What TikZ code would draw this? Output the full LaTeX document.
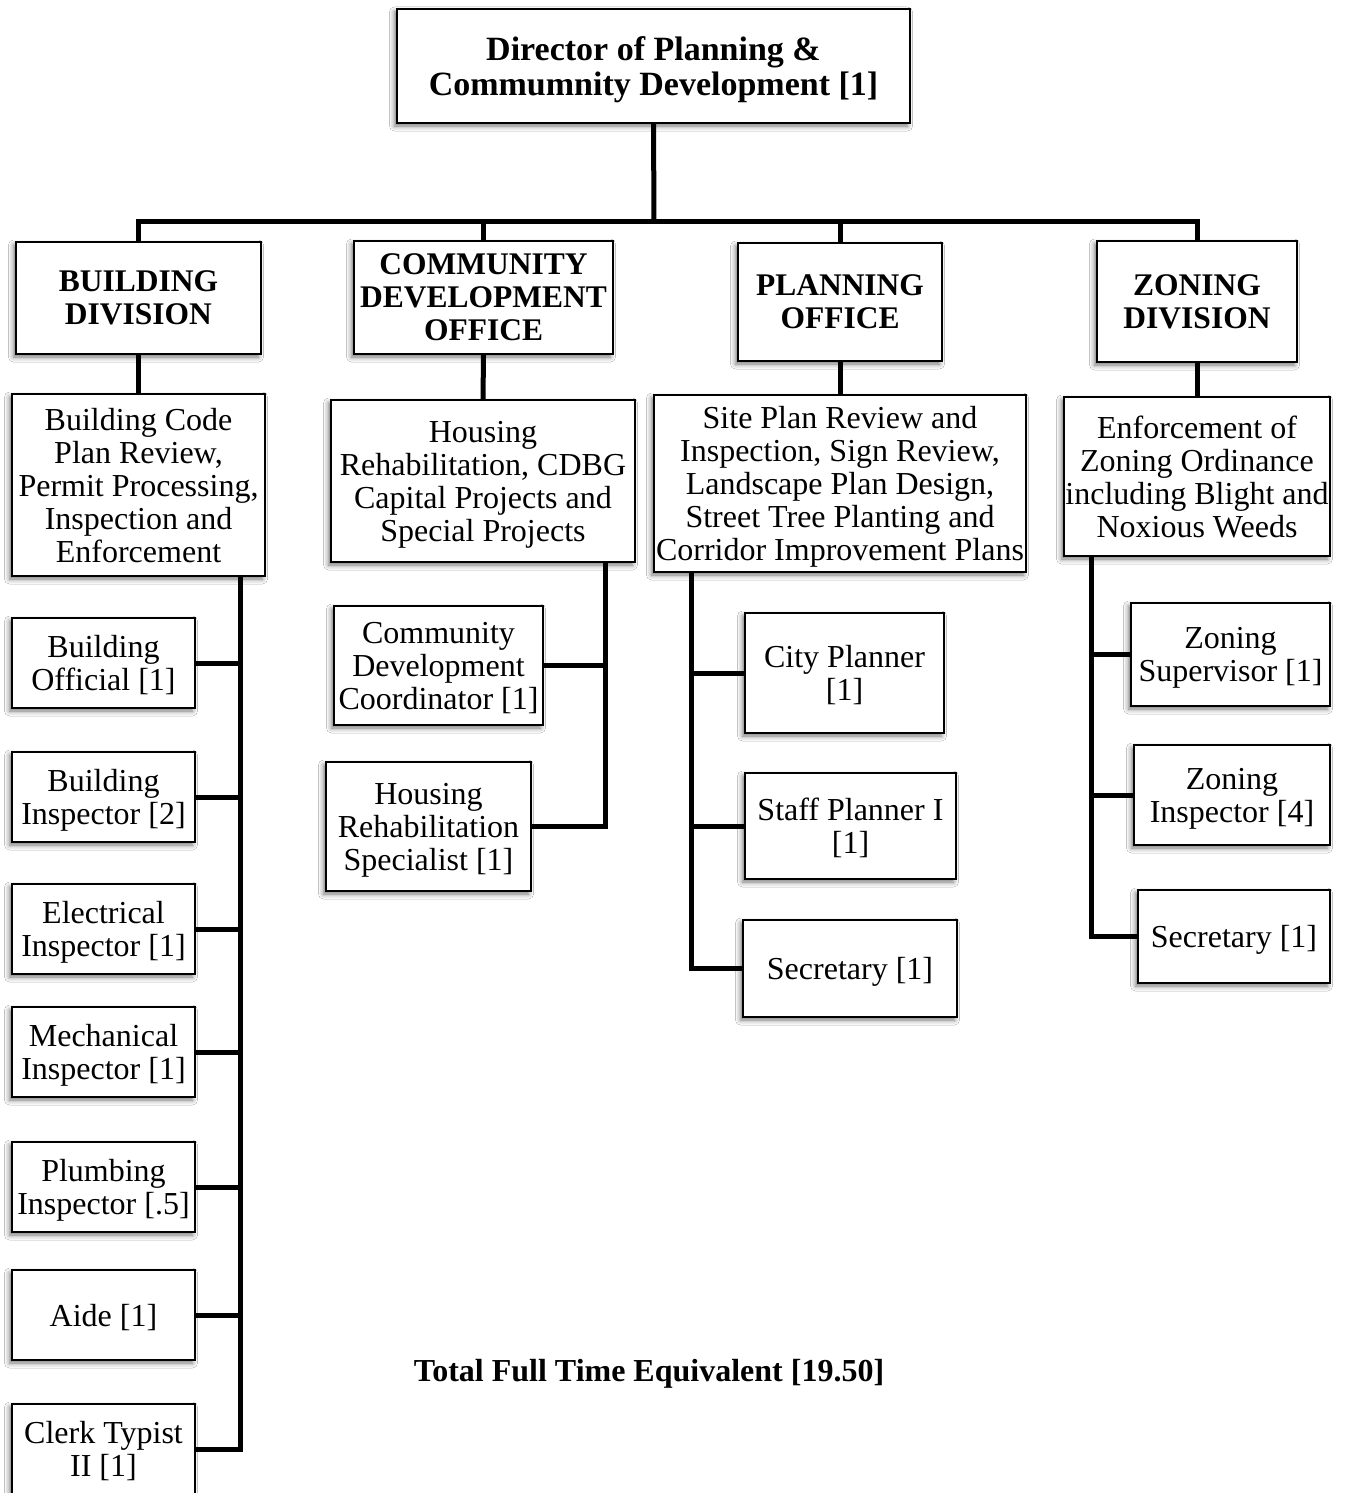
\documentclass[tikz,border=0pt]{standalone}
\usepackage{fontspec}
\setmainfont{Liberation Serif}
\usetikzlibrary{shadows.blur}
\begin{document}
\begin{tikzpicture}[x=1pt,y=-1pt,
  box/.style={draw=black, line width=2pt, fill=white, inner sep=0pt, align=center,
    font=\fontsize{32}{33}\selectfont, text depth=0pt,
    blur shadow={shadow xshift=-2.5pt, shadow yshift=-3pt, shadow blur radius=5pt, shadow opacity=55}},
  head/.style={box, font=\bfseries\fontsize{31.5}{33}\selectfont},
  top/.style={box, font=\bfseries\fontsize{34}{35}\selectfont},
  sz/.style 2 args={minimum width=#1pt, minimum height=#2pt},
  link/.style={line width=5pt, line join=miter}]
\useasboundingbox (0,0) rectangle (1345,1493);
\fill[white] (0,0) rectangle (1345,1493);

% director
\node[top, sz={513}{114}] (dir) at (653.5,66) {Director of Planning \&\\Commumnity Development [1]};

% divisions
\node[head, sz={245}{112}] (bld) at (138.5,298) {BUILDING\\DIVISION};
\node[head, sz={259}{113}] (cdo) at (483.5,297.5) {COMMUNITY\\DEVELOPMENT\\OFFICE};
\node[head, sz={204}{118}] (pln) at (840,302) {PLANNING\\OFFICE};
\node[head, sz={200}{121}] (zon) at (1197,301.5) {ZONING\\DIVISION};

% responsibilities
\node[box, sz={253}{182}] (bcode) at (138.5,485) {Building Code\\Plan Review,\\Permit Processing,\\Inspection and\\Enforcement};
\node[box, sz={304}{162}] (hrehab) at (483,481) {Housing\\Rehabilitation, CDBG\\Capital Projects and\\Special Projects};
\node[box, sz={372}{177}] (site) at (840,483.5) {Site Plan Review and\\Inspection, Sign Review,\\Landscape Plan Design,\\Street Tree Planting and\\Corridor Improvement Plans};
\node[box, sz={266}{159}] (enf) at (1197,476.5) {Enforcement of\\Zoning Ordinance\\including Blight and\\Noxious Weeds};

% building staff
\node[box, sz={183}{90}] (bofc) at (103.5,663) {Building\\Official [1]};
\node[box, sz={183}{90}] (binsp) at (103.5,797) {Building\\Inspector [2]};
\node[box, sz={183}{90}] (elec) at (103.5,929) {Electrical\\Inspector [1]};
\node[box, sz={183}{90}] (mech) at (103.5,1052) {Mechanical\\Inspector [1]};
\node[box, sz={183}{90}] (plmb) at (103.5,1187) {Plumbing\\Inspector [.5]};
\node[box, sz={183}{90}] (aide) at (103.5,1315) {Aide [1]};
\node[box, sz={183}{90}] (clerk) at (103.5,1449) {Clerk Typist\\II [1]};

% community development staff
\node[box, sz={209}{119}] (cdc) at (438.5,665.5) {Community\\Development\\Coordinator [1]};
\node[box, sz={205}{129}] (hrs) at (428.5,826.5) {Housing\\Rehabilitation\\Specialist [1]};

% planning staff
\node[box, sz={199}{120}] (city) at (844.5,673) {City Planner\\{}[1]};
\node[box, sz={211}{106}] (stf) at (850.5,826) {Staff Planner I\\{}[1]};
\node[box, sz={214}{97}] (psec) at (850,968.5) {Secretary [1]};

% zoning staff
\node[box, sz={199}{103}] (zsup) at (1230.5,654.5) {Zoning\\Supervisor [1]};
\node[box, sz={196}{100}] (zinsp) at (1232,795) {Zoning\\Inspector [4]};
\node[box, sz={192}{93}] (zsec) at (1234,936.5) {Secretary [1]};

\node[font=\bfseries\fontsize{32}{33}\selectfont] (fte) at (649,1374) {Total Full Time Equivalent [19.50]};

% director to divisions
\coordinate (bus) at (654,221);
\draw[link] (dir.south) -- (bus);
\draw[link] (bus) -| (bld.north);
\draw[link] (bus) -| (cdo.north);
\draw[link] (bus) -| (pln.north);
\draw[link] (bus) -| (zon.north);

% divisions to responsibilities
\draw[link] (bld.south) -- (bcode.north);
\draw[link] (cdo.south) -- (hrehab.north);
\draw[link] (pln.south) -- (site.north);
\draw[link] (zon.south) -- (enf.north);

% spines
\coordinate (bsp) at (240,0);
\coordinate (csp) at (605,0);
\coordinate (psp) at (691,0);
\coordinate (zsp) at (1091,0);

\draw[link] (bcode.south -| bsp) -- (bsp |- clerk.east) -- (clerk.east);
\foreach \n in {bofc,binsp,elec,mech,plmb,aide}
  \draw[link] (\n.east) -- (\n.east -| bsp);

\draw[link] (hrehab.south -| csp) -- (csp |- hrs.east) -- (hrs.east);
\draw[link] (cdc.east) -- (cdc.east -| csp);

\draw[link] (site.south -| psp) -- (psp |- psec.west) -- (psec.west);
\draw[link] (city.west) -- (city.west -| psp);
\draw[link] (stf.west) -- (stf.west -| psp);

\draw[link] (enf.south -| zsp) -- (zsp |- zsec.west) -- (zsec.west);
\draw[link] (zsup.west) -- (zsup.west -| zsp);
\draw[link] (zinsp.west) -- (zinsp.west -| zsp);
\end{tikzpicture}
\end{document}
